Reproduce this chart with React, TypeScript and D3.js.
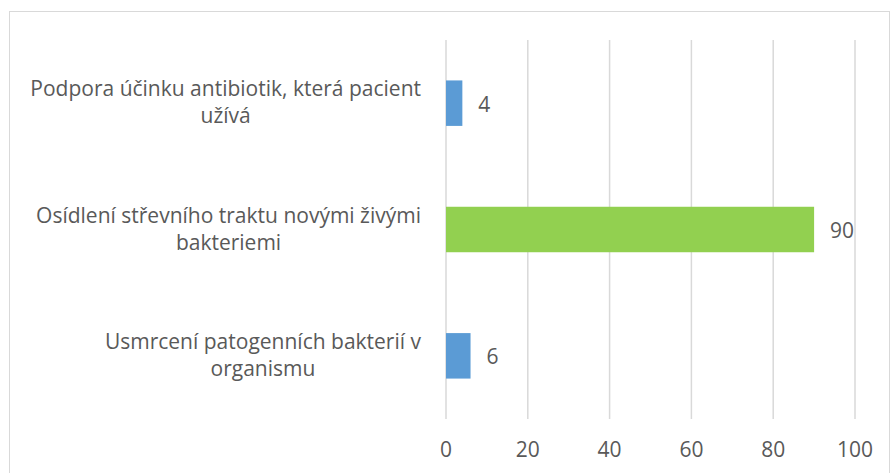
import React, { useEffect, useRef } from "react";
import * as d3 from "d3";

const categories: string[][] = [
  ["Podpora účinku antibiotik, která pacient", "užívá"],
  ["Osídlení střevního traktu novými živými", "bakteriemi"],
  ["Usmrcení patogenních bakterií v", "organismu"],
];
const values: number[] = [4, 90, 6];
const barColors: string[] = ["#5B9BD5", "#92D050", "#5B9BD5"];
const ticks: number[] = [0, 20, 40, 60, 80, 100];

const W = 893;
const H = 473;
const FONT = "'Open Sans', sans-serif";
const TEXT = "#595959";
const FS = 21;

export default function App() {
  const ref = useRef<SVGSVGElement>(null);
  useEffect(() => {
    const svg = d3.select(ref.current);
    svg.selectAll("*").remove();
    const left = 446, right = 855, top = 40, bottom = 419;
    const x = d3.scaleLinear().domain([0, 100]).range([left, right]);
    const y = d3.scaleBand<number>().domain(d3.range(categories.length)).range([top, bottom]).paddingInner(0.64).paddingOuter(0.32);

    svg.append("rect").attr("x", 9.5).attr("y", 11.5).attr("width", 880).attr("height", 470)
      .attr("fill", "#fff").attr("stroke", "#D9D9D9").attr("stroke-width", 1);

    svg.append("g").selectAll("line").data(ticks).join("line")
      .attr("x1", (d) => x(d)).attr("x2", (d) => x(d)).attr("y1", top).attr("y2", bottom)
      .attr("stroke", "#D9D9D9").attr("stroke-width", 1.5);

    svg.append("g").selectAll("text").data(ticks).join("text")
      .attr("x", (d) => x(d)).attr("y", 457).attr("text-anchor", "middle")
      .attr("font-family", FONT).attr("font-size", FS).attr("fill", TEXT).text((d) => String(d));

    svg.append("g").selectAll("rect").data(values).join("rect")
      .attr("x", x(0)).attr("y", (_, i) => y(i)!).attr("width", (d) => x(d) - x(0))
      .attr("height", y.bandwidth()).attr("fill", (_, i) => barColors[i]);

    svg.append("g").selectAll("text").data(values).join("text")
      .attr("x", (d) => x(d) + 16).attr("y", (_, i) => y(i)! + y.bandwidth() / 2 + 8.5)
      .attr("font-family", FONT).attr("font-size", FS).attr("fill", TEXT).text((d) => String(d));

    categories.forEach((lines, i) => {
      const g = svg.append("g");
      const cy = y(i)! + y.bandwidth() / 2;
      const lh = 27;
      const t = g.selectAll("text").data(lines).join("text")
        .attr("y", (_, j) => cy - 7 + j * lh)
        .attr("text-anchor", "middle")
        .attr("font-family", FONT).attr("font-size", FS).attr("fill", TEXT).text((d) => d);
      let maxW = 0;
      t.each(function () {
        maxW = Math.max(maxW, (this as SVGTextElement).getComputedTextLength());
      });
      t.attr("x", 421 - maxW / 2);
    });
  }, []);
  return (
    <svg ref={ref} width={W} height={H} style={{ position: "absolute", left: 0, top: 0, background: "#fff" }} />
  );
}
